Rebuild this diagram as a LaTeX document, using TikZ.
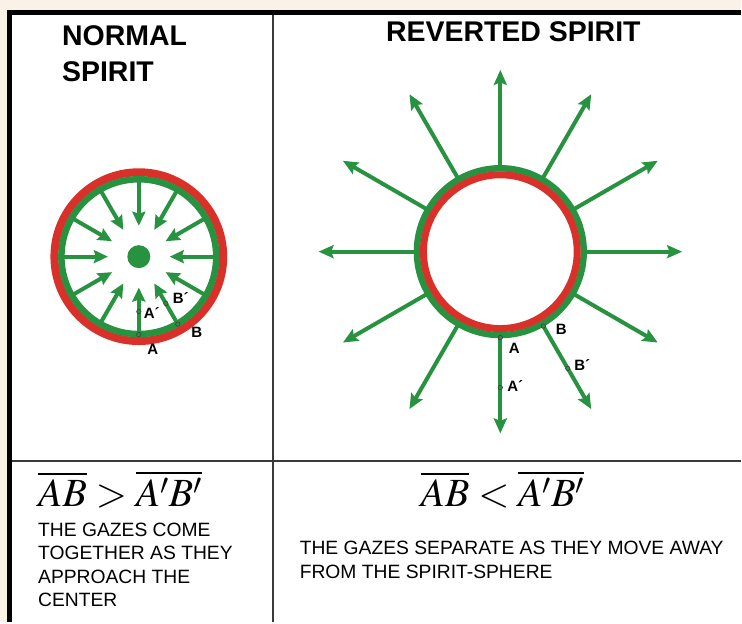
\documentclass[tikz,border=0pt]{standalone}
\usepackage{mathptmx}
\usepackage[no-math]{fontspec}
\setmainfont{Liberation Sans}
\usetikzlibrary{arrows.meta}
\definecolor{bgbeige}{HTML}{FAF2E7}
\definecolor{sgreen}{HTML}{27923F}
\definecolor{sred}{HTML}{D9302A}
\definecolor{divgray}{HTML}{3A3A3A}
\tikzset{
  titletext/.style={font=\fontsize{28.5}{30}\selectfont\bfseries, inner sep=0pt, anchor=base west},
  bodytext/.style={font=\fontsize{19.3}{22}\selectfont, inner sep=0pt, anchor=base west},
  formula/.style={font=\fontsize{40}{44}\selectfont, inner sep=0pt, anchor=base west},
  ptlabel/.style={font=\fontsize{15}{16}\selectfont\bfseries, inner sep=0pt},
  inarrow/.style={draw=sgreen, line width=4pt, -{Stealth[length=14pt,width=13pt,inset=2pt]}},
  outarrow/.style={draw=sgreen, line width=4pt, -{Stealth[length=15pt,width=13pt,inset=2.5pt]}},
  ptmark/.style={draw=black!75, fill=sgreen, line width=0.6pt},
  divider/.style={draw=divgray, line width=2pt},
}
\begin{document}
\begin{tikzpicture}[x=1pt, y=-1pt]
  % background and frame
  \fill[bgbeige] (0,0) rectangle (742,623);
  \fill[white] (7,10) rectangle (742,623);
  \fill[black] (7,10) rectangle (742,15);
  \fill[black] (7,10) rectangle (12,623);
  \draw[divider] (273,15) -- (273,623);
  \draw[divider] (12,462) -- (742,462);

  % titles
  \node[titletext] (t1) at (62,46) {NORMAL};
  \node[titletext] (t2) at (62,82) {SPIRIT};
  \node[titletext, anchor=base] (t3) at (514,42) {REVERTED SPIRIT};

  % ---------- normal spirit ----------
  \coordinate (c1) at (139,257);
  \draw[sred, line width=8pt] (c1) circle (84.5);
  \draw[sgreen, line width=6.5pt] (c1) circle (77.5);
  \fill[sgreen] (c1) circle (11.5);
  \foreach \a in {0,30,...,330} {
    \coordinate (ls\a) at ([shift={(\a:77)}]c1);
    \coordinate (le\a) at ([shift={(\a:31)}]c1);
    \draw[inarrow] (ls\a) -- (le\a);
  }
  \coordinate (lA) at ([shift={(90:78)}]c1);
  \coordinate (lAp) at ([shift={(90:55)}]c1);
  \coordinate (lB) at ([shift={(60:78)}]c1);
  \coordinate (lBp) at ([shift={(60:54)}]c1);
  \foreach \p in {lA,lAp,lB,lBp} { \draw[ptmark] (\p) circle (2.2); }
  \node[ptlabel] (lAl) at (153,350) {A};
  \node[ptlabel] (lApl) at (152,313) {A´};
  \node[ptlabel] (lBl) at (197,333) {B};
  \node[ptlabel] (lBpl) at (181,298) {B´};

  % ---------- reverted spirit ----------
  \coordinate (c2) at (501,252);
  \foreach \a in {0,30,...,330} {
    \coordinate (rs\a) at ([shift={(\a:84)}]c2);
    \coordinate (re\a) at ([shift={(\a:182)}]c2);
    \draw[outarrow] (rs\a) -- (re\a);
  }
  \draw[sgreen, line width=6.5pt] (c2) circle (83.5);
  \draw[sred, line width=7pt] (c2) circle (77);
  \coordinate (rA) at ([shift={(90:86)}]c2);
  \coordinate (rAp) at ([shift={(90:136)}]c2);
  \coordinate (rB) at ([shift={(60:86)}]c2);
  \coordinate (rBp) at ([shift={(60:135)}]c2);
  \foreach \p in {rA,rAp,rB,rBp} { \draw[ptmark] (\p) circle (2.2); }
  \node[ptlabel] (rAl) at (515,349) {A};
  \node[ptlabel] (rApl) at (516,387) {A´};
  \node[ptlabel] (rBl) at (562,330) {B};
  \node[ptlabel] (rBpl) at (583,365) {B´};

  % ---------- bottom row ----------
  \node[formula] (f1) at (38,507) {$\overline{AB} > \overline{A'B'}$};
  \node[formula] (f2) at (421,507) {$\overline{AB} < \overline{A'B'}$};

  \node[bodytext] (l1) at (38,537) {THE GAZES COME};
  \node[bodytext] (l2) at (38,560) {TOGETHER AS THEY};
  \node[bodytext] (l3) at (38,584) {APPROACH THE};
  \node[bodytext] (l4) at (38,607) {CENTER};

  \node[bodytext] (r1) at (300,555) {THE GAZES SEPARATE AS THEY MOVE AWAY};
  \node[bodytext] (r2) at (300,579) {FROM THE SPIRIT-SPHERE};
\end{tikzpicture}
\end{document}
